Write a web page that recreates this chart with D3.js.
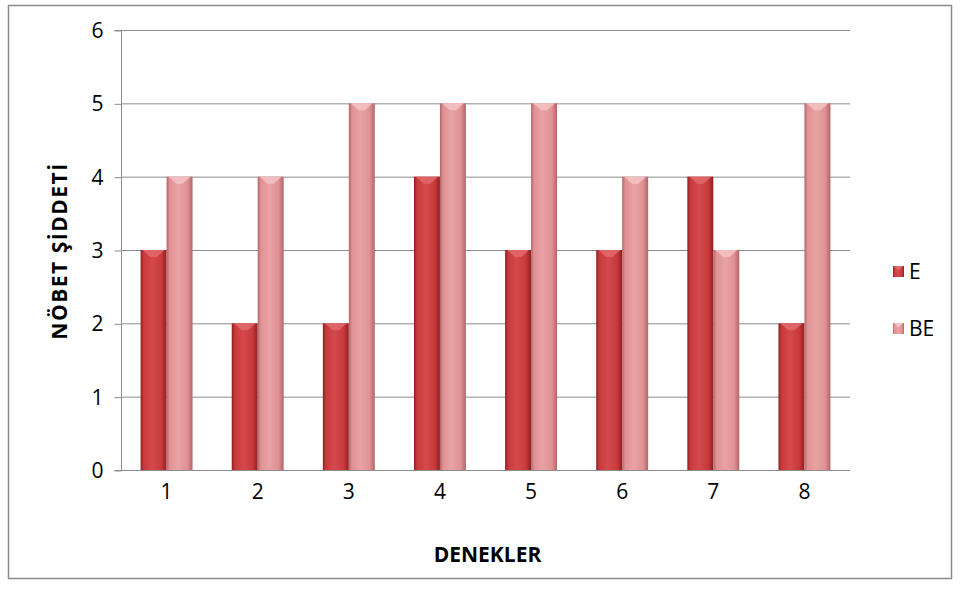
<!DOCTYPE html>
<html>
<head>
<meta charset="utf-8">
<script src="https://cdn.jsdelivr.net/npm/d3@7"></script>
<style>
  body { margin: 0; background: #fff; }
  svg { display: block; font-family: "Open Sans", "Noto Sans", sans-serif; }
</style>
</head>
<body>
<svg id="chart" width="960" height="596"></svg>
<script>
// Seizure severity per subject, for the two conditions
const subjects = ["1", "2", "3", "4", "5", "6", "7", "8"];
const seriesNames = ["E", "BE"];
const valuesE  = [3, 2, 2, 4, 3, 3, 4, 2];
const valuesBE = [4, 4, 5, 5, 5, 4, 3, 5];
const yTicks = [0, 1, 2, 3, 4, 5, 6];

const svg = d3.select("#chart");

// outer frame
svg.append("rect")
  .attr("x", 8.5).attr("y", 5.5).attr("width", 943).attr("height", 573)
  .attr("fill", "#fff").attr("stroke", "#8c8c8c").attr("stroke-width", 1.5);

const plot = { left: 121, right: 850, top: 30, bottom: 470 };

const x = d3.scaleBand().domain(subjects).range([plot.left, plot.right]).paddingInner(0.43).paddingOuter(0.215);
const xs = d3.scaleBand().domain(seriesNames).range([0, x.bandwidth()]);
const y = d3.scaleLinear().domain([0, 6]).range([plot.bottom, plot.top]);

// gradients giving each bar a rounded, shaded look
const defs = svg.append("defs");
const palettes = {
  E:  { edge: "#8e1f22", mid: "#c9393c", light: "#d24a4c" },
  BE: { edge: "#b26668", mid: "#e09193", light: "#e8a3a4" }
};
seriesNames.forEach(s => {
  const p = palettes[s];
  const g = defs.append("linearGradient").attr("id", "grad-" + s)
    .attr("x1", "0%").attr("x2", "100%").attr("y1", "0%").attr("y2", "0%");
  g.append("stop").attr("offset", "0%").attr("stop-color", p.edge);
  g.append("stop").attr("offset", "12%").attr("stop-color", p.mid);
  g.append("stop").attr("offset", "45%").attr("stop-color", p.light);
  g.append("stop").attr("offset", "80%").attr("stop-color", p.mid);
  g.append("stop").attr("offset", "100%").attr("stop-color", p.edge);
});

// horizontal gridlines
svg.append("g").selectAll("line").data(yTicks.filter(t => t > 0)).join("line")
  .attr("x1", plot.left).attr("x2", plot.right)
  .attr("y1", d => y(d) + 0.5).attr("y2", d => y(d) + 0.5)
  .attr("stroke", "#8c8c8c").attr("stroke-width", 1);

// y axis
const yAxis = d3.axisLeft(y).tickValues(yTicks).tickSize(7).tickPadding(11).tickFormat(d3.format("d"));
const gy = svg.append("g").attr("transform", `translate(${plot.left + 0.5},0)`).call(yAxis);
gy.select(".domain").attr("stroke", "#8c8c8c").attr("d", `M-7,${y(6)+0.5}H0V${y(0)+0.5}H-7`);
gy.selectAll(".tick line").attr("stroke", "#8c8c8c").attr("transform", "translate(0,0.5)");
gy.selectAll(".tick text").attr("font-size", 21).attr("fill", "#000")
  .attr("font-family", "Open Sans, sans-serif").attr("dy", "0.36em");

// bars
const data = subjects.map((s, i) => ({ subject: s, E: valuesE[i], BE: valuesBE[i] }));
const groups = svg.append("g").selectAll("g").data(data).join("g")
  .attr("transform", d => `translate(${x(d.subject)},0)`);

const bars = groups.selectAll("g.bar")
  .data(d => seriesNames.map(k => ({ key: k, value: d[k] })))
  .join("g").attr("class", "bar");

bars.append("rect")
  .attr("x", d => xs(d.key)).attr("width", xs.bandwidth())
  .attr("y", d => y(d.value)).attr("height", d => y(0) - y(d.value))
  .attr("fill", d => `url(#grad-${d.key})`);

// bevelled highlight on top of each bar
bars.append("path")
  .attr("d", d => {
    const x0 = xs(d.key), w = xs.bandwidth(), t = y(d.value);
    return `M${x0 + 2},${t}H${x0 + w - 2}L${x0 + w * 0.62},${t + 7}H${x0 + w * 0.38}Z`;
  })
  .attr("fill", d => d.key === "E" ? "#e06a6c" : "#f4c3c4")
  .attr("opacity", 0.85);

// bottom axis line and x tick labels
svg.append("line").attr("x1", plot.left).attr("x2", plot.right)
  .attr("y1", y(0) + 0.5).attr("y2", y(0) + 0.5).attr("stroke", "#8c8c8c");

const xAxis = d3.axisBottom(x).tickSize(0).tickPadding(14);
const gx = svg.append("g").attr("transform", `translate(0,${plot.bottom})`).call(xAxis);
gx.select(".domain").remove();
gx.selectAll(".tick text").attr("font-size", 21).attr("fill", "#000").attr("font-family", "Open Sans, sans-serif");

// axis titles
svg.append("text").attr("x", (plot.left + plot.right) / 2 + 2).attr("y", 562)
  .attr("text-anchor", "middle").attr("font-size", 21).attr("font-weight", "bold")
  .text("DENEKLER");
svg.append("text")
  .attr("transform", `translate(67,${(plot.top + plot.bottom) / 2 + 1}) rotate(-90)`)
  .attr("text-anchor", "middle").attr("font-size", 21).attr("font-weight", "bold")
  .attr("letter-spacing", 1.5)
  .text("NÖBET ŞİDDETİ");

// legend
const legend = svg.append("g").selectAll("g").data(seriesNames).join("g")
  .attr("transform", (d, i) => `translate(893,${266 + i * 57})`);
legend.append("rect").attr("width", 11).attr("height", 11)
  .attr("fill", d => `url(#grad-${d})`);
legend.append("path").attr("d", "M1,0H10L6.5,4H4.5Z")
  .attr("fill", d => d === "E" ? "#e06a6c" : "#f4c3c4");
legend.append("text").attr("x", 16).attr("y", 13).attr("font-size", 21)
  .text(d => d);
</script>
</body>
</html>
